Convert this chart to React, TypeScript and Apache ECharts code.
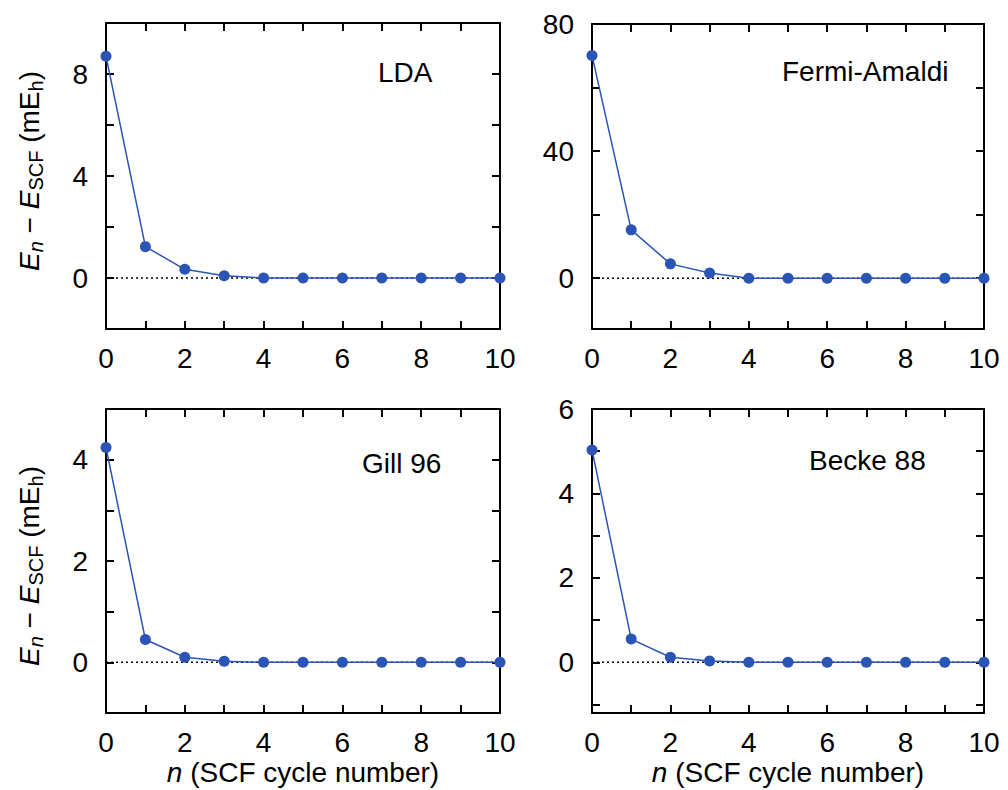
import React, { useEffect, useRef } from "react";
import * as echarts from "echarts";

const cycles = [0, 1, 2, 3, 4, 5, 6, 7, 8, 9, 10];
const ldaValues = [8.7, 1.23, 0.34, 0.09, 0, 0, 0, 0, 0, 0, 0];
const fermiValues = [70.1, 15.2, 4.5, 1.6, 0, 0, 0, 0, 0, 0, 0];
const gillValues = [4.24, 0.45, 0.1, 0.02, 0, 0, 0, 0, 0, 0, 0];
const beckeValues = [5.03, 0.55, 0.12, 0.03, 0, 0, 0, 0, 0, 0, 0];

const panelNames = ["LDA", "Fermi-Amaldi", "Gill 96", "Becke 88"];
const xTickValues = [0, 1, 2, 3, 4, 5, 6, 7, 8, 9, 10];
const xLabelValues = [0, 2, 4, 6, 8, 10];

const ldaRange = [-2, 10];
const ldaTicks = [-2, 0, 2, 4, 6, 8, 10];
const ldaLabels = [0, 4, 8];
const fermiRange = [-16, 80];
const fermiTicks = [0, 20, 40, 60, 80];
const fermiLabels = [0, 40, 80];
const gillRange = [-1, 5];
const gillTicks = [-1, 0, 1, 2, 3, 4, 5];
const gillLabels = [0, 2, 4];
const beckeRange = [-1.2, 6];
const beckeTicks = [-1, 0, 1, 2, 3, 4, 5, 6];
const beckeLabels = [0, 2, 4, 6];

const FONT = '"Liberation Sans", Arial, Helvetica, sans-serif';
const BLUE = "#2b54b4";

export default function App() {
  const ref = useRef<HTMLDivElement>(null);
  useEffect(() => {
    if (!ref.current) return;
    const chart = echarts.init(ref.current, undefined, { renderer: "svg" });

    const panels = [
      { values: ldaValues, range: ldaRange, ticks: ldaTicks, labels: ldaLabels },
      { values: fermiValues, range: fermiRange, ticks: fermiTicks, labels: fermiLabels },
      { values: gillValues, range: gillRange, ticks: gillTicks, labels: gillLabels },
      { values: beckeValues, range: beckeRange, ticks: beckeTicks, labels: beckeLabels },
    ];
    const grids = [
      { left: 106, top: 23, width: 394, height: 306 },
      { left: 592, top: 24, width: 392, height: 305 },
      { left: 106, top: 409, width: 394, height: 304 },
      { left: 592, top: 409, width: 392, height: 304 },
    ];
    const nameAnchors = [
      { x: 378, y: 72 },
      { x: 782, y: 71 },
      { x: 362, y: 463 },
      { x: 809, y: 460 },
    ];

    const axisLine = { show: true, onZero: false, lineStyle: { color: "#000", width: 2 } };
    const tickStyle = { color: "#000", width: 2 };

    const xAxes: any[] = [];
    const yAxes: any[] = [];
    const series: any[] = [];
    panels.forEach((p, i) => {
      const xBase = {
        type: "value",
        gridIndex: i,
        min: 0,
        max: 10,
        interval: 1,
        splitLine: { show: false },
        axisLine,
        axisTick: { show: true, inside: true, length: 8, lineStyle: tickStyle, customValues: xTickValues },
      };
      xAxes.push({
        ...xBase,
        position: "bottom",
        axisLabel: {
          show: true,
          customValues: xLabelValues,
          fontSize: 28,
          fontFamily: FONT,
          color: "#000",
          margin: 15,
        },
      });
      xAxes.push({ ...xBase, position: "top", axisLabel: { show: false } });
      const yBase = {
        type: "value",
        gridIndex: i,
        min: p.range[0],
        max: p.range[1],
        splitLine: { show: false },
        axisLine,
        axisTick: { show: true, inside: true, length: 8, lineStyle: tickStyle, customValues: p.ticks },
      };
      yAxes.push({
        ...yBase,
        position: "left",
        axisLabel: {
          show: true,
          customValues: p.labels,
          fontSize: 28,
          fontFamily: FONT,
          color: "#000",
          margin: 18,
        },
      });
      yAxes.push({ ...yBase, position: "right", axisLabel: { show: false } });

      series.push({
        type: "line",
        xAxisIndex: i * 2,
        yAxisIndex: i * 2,
        data: cycles.map((c) => [c, 0]),
        showSymbol: false,
        symbol: "none",
        silent: true,
        z: 1,
        lineStyle: { color: "#000", width: 1.5, type: [2, 3] },
      });
      series.push({
        type: "line",
        name: panelNames[i],
        xAxisIndex: i * 2,
        yAxisIndex: i * 2,
        data: cycles.map((c, j) => [c, p.values[j]]),
        symbol: "circle",
        symbolSize: 11,
        clip: false,
        z: 3,
        lineStyle: { color: BLUE, width: 1.5 },
        itemStyle: { color: BLUE },
      });
    });

    const graphic: any[] = [];
    panelNames.forEach((name, i) => {
      graphic.push({
        type: "text",
        x: nameAnchors[i].x,
        y: nameAnchors[i].y,
        style: {
          text: name,
          fontFamily: FONT,
          fontSize: 28,
          fill: "#000",
          align: "left",
          verticalAlign: "middle",
        },
      });
    });
    const yTitleRich = {
      r: { fontSize: 28, fontFamily: FONT, color: "#000" },
      i: { fontSize: 28, fontFamily: FONT, fontStyle: "italic", color: "#000" },
      s: { fontSize: 20, fontFamily: FONT, color: "#000", padding: [14, 0, 0, 0] },
      si: { fontSize: 20, fontFamily: FONT, fontStyle: "italic", color: "#000", padding: [14, 0, 0, 0] },
    };
    const yTitleText = "{i|E}{si|n}{r| − }{i|E}{s|SCF}{r| (mE}{s|h}{r|)}";
    [171, 566].forEach((cy) => {
      graphic.push({
        type: "text",
        x: 29,
        y: cy,
        rotation: Math.PI / 2,
        style: {
          text: yTitleText,
          rich: yTitleRich,
          fontFamily: FONT,
          fontSize: 28,
          fill: "#000",
          align: "center",
          verticalAlign: "middle",
        },
      });
    });
    const xTitleRich = {
      r: { fontSize: 28, fontFamily: FONT, color: "#000" },
      i: { fontSize: 28, fontFamily: FONT, fontStyle: "italic", color: "#000" },
    };
    [303, 788].forEach((cx) => {
      graphic.push({
        type: "text",
        x: cx,
        y: 772,
        style: {
          text: "{i|n}{r| (SCF cycle number)}",
          rich: xTitleRich,
          fontFamily: FONT,
          fontSize: 28,
          fill: "#000",
          align: "center",
          verticalAlign: "middle",
        },
      });
    });

    chart.setOption({
      animation: false,
      backgroundColor: "#ffffff",
      grid: grids.map((g) => ({ ...g, containLabel: false })),
      xAxis: xAxes,
      yAxis: yAxes,
      series,
      graphic,
    });

    return () => chart.dispose();
  }, []);
  return (
    <div
      ref={ref}
      style={{ position: "fixed", left: 0, top: 0, width: 1008, height: 790 }}
    />
  );
}
